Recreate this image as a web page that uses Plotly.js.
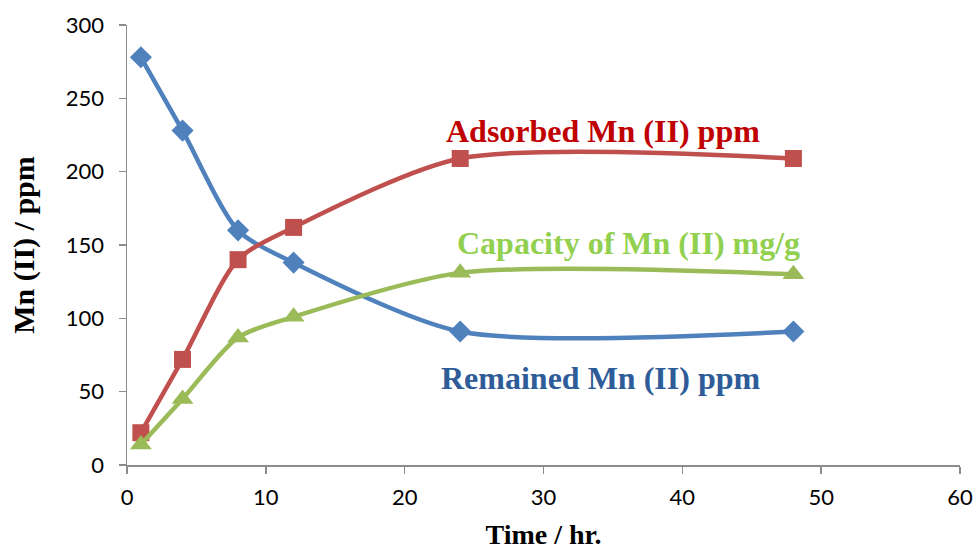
<!DOCTYPE html>
<html><head><meta charset="utf-8">
<script src="https://cdn.plot.ly/plotly-3.0.1.min.js"></script>
<style>html,body{margin:0;padding:0;background:#fff}#c{width:975px;height:550px}</style>
</head><body><div id="c"></div>
<script>
const time = [1, 4, 8, 12, 24, 48];
const remained = [278, 228, 160, 138, 91, 91];
const adsorbed = [22, 72, 140, 162, 209, 209];
const capacity = [14, 45, 87, 101, 131, 130];
const seriesNames = ["Remained Mn (II) ppm", "Adsorbed Mn (II) ppm", "Capacity of Mn (II) mg/g"];

const traces = [
  {x: time, y: remained, name: seriesNames[0], mode: "lines+markers",
   line: {color: "#4F81BD", width: 4.5, shape: "spline", smoothing: 0.75},
   marker: {symbol: "diamond", size: 17, color: "#4F81BD"}},
  {x: time, y: adsorbed, name: seriesNames[1], mode: "lines+markers",
   line: {color: "#C0504D", width: 4.5, shape: "spline", smoothing: 0.75},
   marker: {symbol: "square", size: 17, color: "#C0504D"}},
  {x: time, y: capacity, name: seriesNames[2], mode: "lines+markers",
   line: {color: "#9BBB59", width: 4.5, shape: "spline", smoothing: 0.75},
   marker: {symbol: "triangle-up", size: 19, color: "#9BBB59"}}
];

const annFont = {family: "Liberation Serif, Times New Roman, serif", size: 32};
const layout = {
  width: 975, height: 550,
  margin: {l: 127, r: 15, t: 25, b: 85},
  paper_bgcolor: "#fff", plot_bgcolor: "#fff",
  showlegend: false,
  xaxis: {range: [0, 60], dtick: 10, showgrid: false, zeroline: false,
    showline: true, linecolor: "#8c8c8c", linewidth: 1.5,
    ticks: "outside", ticklen: 7, tickcolor: "#8c8c8c", tickwidth: 1.5, ticklabelstandoff: 5,
    tickfont: {family: "Lato, Carlito, Calibri, sans-serif", size: 22, color: "#000"},
    title: {text: "<b>Time / hr.</b>", standoff: 16,
      font: {family: "Liberation Serif, Times New Roman, serif", size: 28, color: "#000"}}},
  yaxis: {range: [0, 300], dtick: 50, showgrid: false, zeroline: false,
    showline: true, linecolor: "#8c8c8c", linewidth: 1.5,
    ticks: "outside", ticklen: 7, tickcolor: "#8c8c8c", tickwidth: 1.5, ticklabelstandoff: 10,
    tickfont: {family: "Lato, Carlito, Calibri, sans-serif", size: 22, color: "#000"},
    title: {text: "<b>Mn (II) / ppm</b>", standoff: 22,
      font: {family: "Liberation Serif, Times New Roman, serif", size: 30, color: "#000"}}},
  annotations: [
    {x: 34.3, y: 227.7, xref: "x", yref: "y", text: "<b>" + seriesNames[1] + "</b>", showarrow: false,
     font: Object.assign({}, annFont, {color: "#C00000"})},
    {x: 36.1, y: 151.4, xref: "x", yref: "y", text: "<b>" + seriesNames[2] + "</b>", showarrow: false,
     font: Object.assign({}, annFont, {color: "#92D050"})},
    {x: 34.1, y: 59.3, xref: "x", yref: "y", text: "<b>" + seriesNames[0] + "</b>", showarrow: false,
     font: Object.assign({}, annFont, {color: "#2E5C99"})}
  ]
};
Plotly.newPlot("c", traces, layout, {displayModeBar: false, staticPlot: true});
</script></body></html>
